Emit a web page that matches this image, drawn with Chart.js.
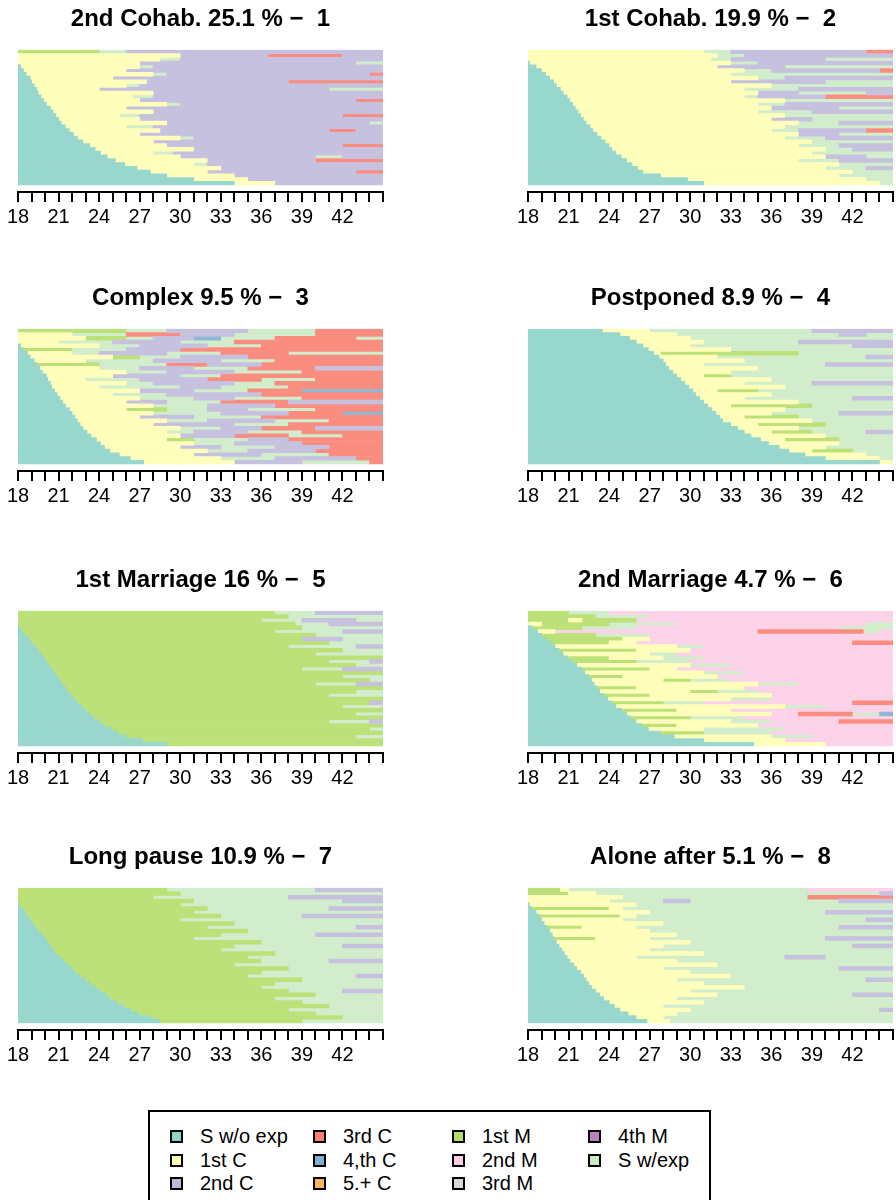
<!DOCTYPE html>
<html>
<head>
<meta charset="utf-8">
<script src="https://cdn.jsdelivr.net/npm/chart.js@4.4.1/dist/chart.umd.min.js"></script>
<style>
  body { margin: 0; background: #fff; font-family: "Liberation Sans", Arial, sans-serif; }
  #wrap { position: relative; width: 896px; height: 1200px; overflow: hidden; }
  canvas.panel { position: absolute; }
  #legend {
    position: absolute; left: 148px; top: 1110px; width: 563px; height: 110px;
    border: 2px solid #000; box-sizing: border-box;
    display: grid; padding: 13px 0 0 20px;
    grid-template-columns: 143px 139px 136px auto;
    grid-template-rows: repeat(3, 23.5px);
    grid-auto-flow: column;
  }
  .item { display: flex; align-items: center; font-size: 20px; color: #000; white-space: nowrap; }
  .sw { width: 13px; height: 13px; border: 2px solid #000; box-sizing: border-box; margin-right: 17px; }
</style>
</head>
<body>
<div id="wrap">
  <div id="legend"></div>
</div>
<script>
// etats (codes a..k)
const stateCodes = ['a', 'b', 'c', 'd', 'e', 'f', 'g', 'h', 'i', 'j', 'k'];
const stateLabels = ['S w/o exp', '1st C', '2nd C', '3rd C', '4,th C', '5.+ C', '1st M', '2nd M', '3rd M', '4th M', 'S w/exp'];
const stateColors = ['#8DD3C7', '#FFFFB3', '#BEBADA', '#FB8072', '#80B1D3', '#FDB462', '#B3DE69', '#FCCDE5', '#D9D9D9', '#BC80BD', '#CCEBC5'];

const ageStart = 18;
const ageEnd = 45;
const ageTickLabels = [18, 21, 24, 27, 30, 33, 36, 39, 42];

const panelTitles = [
  '2nd Cohab. 25.1 % \u2212  1', '1st Cohab. 19.9 % \u2212  2',
  'Complex 9.5 % \u2212  3', 'Postponed 8.9 % \u2212  4',
  '1st Marriage 16 % \u2212  5', '2nd Marriage 4.7 % \u2212  6',
  'Long pause 10.9 % \u2212  7', 'Alone after 5.1 % \u2212  8'
];

// sequences, de haut en bas: code d'etat suivi de l'age de fin (vide = jusqu'a 45)
const seqCohab2 = [
  'g24k26c', 'b30c36.5d42c', 'b28.5k30c', 'b27c43k', 'a18.2b27k28c', 'a18.4b26c',
  'a18.6b28k29c44d', 'a18.9b25c', 'a19b27.5c38d', 'a19.2b26k27c', 'a19.4b24c41k', 'a19.5b28c',
  'a19.7b26.5k28c', 'a19.9b27c43d', 'a20.1b29k30c', 'a20.4b26c', 'a20.6b28c', 'a20.8b25.5k27c42d',
  'a21b27c', 'a21.2b29c44k', 'a21.5b26k28c', 'a21.8b28.5c41d43c', 'a22.1b27c', 'a22.4b30k31c',
  'a22.8b28c', 'a23.3b29c42d', 'a23.7b31c', 'a24.1b28k29.5c', 'a24.6b30c40k42c', 'a25.2b32c40d',
  'a25.9b31k32c', 'a26.8b33c', 'a27.8b32c43d', 'a29b34c', 'a31b35c', 'a34b37c'
];
const seqCohab1 = [
  'b31k33c43d', 'b32k34c', 'b31.5k33c40k', 'a18.1b33k35c', 'a18.6b32c37k', 'a19b34k36c44d',
  'a19.3b33k', 'a19.6b35k37c', 'a19.9b33c40k', 'a20.1b36k', 'a20.4b34k38c', 'a20.6b35c38k43c',
  'a20.9b34k35c40d', 'a21.1b37k', 'a21.3b35k37c', 'a21.5b36c41k', 'a21.7b35k39c', 'a21.9b37k',
  'a22.1b36c39k', 'a22.3b38k41c', 'a22.6b37k', 'a22.8b36k38c43d', 'a23.1b38c41k', 'a23.4b37k40c',
  'a23.7b39k', 'a24b38k41c', 'a24.2b40k42c', 'a24.5b39k', 'a24.9b40c43k', 'a25.3b38k41c',
  'a25.7b41k', 'a26.1b40k43c', 'a26.5b42k', 'a27.8b41k', 'a29.8b43k', 'a31b44k'
];
const seqComplex = [
  'g26k29c35k40d', 'b22k26d30c34k40d', 'b23g26k28c31e33k37d43k', 'b21k25c30k34d',
  'a18.2b24k27c32k36d', 'a18.4g22k26c30d', 'a18.7b22k24c29k33d38k', 'a18.9b25g27k30c35d',
  'a19.2b23k28c33k37d', 'a19.4g24k29d32c36d', 'a19.6b24k27c31k35d40c', 'a19.8b26k29c34k39d',
  'a20.1b25c30k33d', 'a20.2b23k27c32d36k40d', 'a20.4b26k28c34k37d', 'a20.5b24k30c33k38d',
  'a20.7b27c31k35d39e', 'a20.9b25k29c36d', 'a21.1b27k31c34k39d', 'a21.3b26c29k33d38c',
  'a21.5b28k32c37d', 'a21.8b26g29k32c35k40d', 'a22b28k33c38d42e', 'a22.2b27c31k36d',
  'a22.4b29k32c37k41d', 'a22.6b28c34k38d', 'a22.8b30k33c36d40c', 'a23.1b29k31c35k39d',
  'a23.4b30c34d38k42d', 'a23.8b29g31k35c38d', 'a24.1b31k34c39d', 'a24.4b30c33k37c41d',
  'a24.8b32k35c40d', 'a25.5b31c36k41d', 'a26.3b33k37c43d', 'a27.3b34c39k44d'
];
const seqPostponed = [
  'a23.5b27k39c', 'a24.8b29k41c43k', 'a25.5b30k', 'a26b31k38c', 'a26.5b30k42c', 'a26.9b33k',
  'a27.3b27.8g38k', 'a27.7b32k43c', 'a28b34k', 'a28.2b31k40c', 'a28.4b35k', 'a28.7b33k',
  'a29b31g33k', 'a29.3b36k', 'a29.6b34k39c', 'a29.9b37k', 'a30.2b32g35k', 'a30.4b36k',
  'a30.7b34k42c', 'a31b38k', 'a31.3b33g39k', 'a31.6b37k', 'a31.9b36k41c', 'a32.2b34g38k',
  'a32.4b39k', 'a33b35g40k', 'a33.5b38k', 'a34b36g39k43c', 'a34.5b40k', 'a35.2b37g41k',
  'a35.8b41k', 'a36.6b40k', 'a37.3b39g42k', 'a38.5b43k', 'a40b44k', 'a44b'
];
const seqMarriage1 = [
  'g37k40c', 'g38k', 'g36k39c43k', 'g38.5k41c', 'a18.1g39k', 'a18.3g37k42c',
  'a18.5g40k', 'a18.8g39c42k', 'a19g41k', 'a19.3g38k43c', 'a19.5g42k', 'a19.7g40k',
  'a19.9g', 'a20.1g41k44c', 'a20.3g43k', 'a20.5g39k42c', 'a20.7g', 'a20.9g42k',
  'a21.1g44k', 'a21.3g40k43c', 'a21.5g', 'a21.7g43k', 'a21.9g41k', 'a22.2g',
  'a22.4g44c', 'a22.7g42k', 'a23g', 'a23.3g43k', 'a23.6g', 'a24g41k44c',
  'a24.4g', 'a24.9g44k', 'a25.4g', 'a26g43k', 'a27.2g', 'a29g'
];
const seqMarriage2 = [
  'g21k24h', 'g23k27h', 'g21b22g26h', 'a18b19g24k29h43k', 'a18.3g22k26h41k', 'a18.7b20h35d42.8k44h',
  'a19g23k27h', 'a19.3g25b27h', 'a19.7g24b26h42d', 'a20b29k31h', 'a20.3g26b30h', 'a20.6b27k29h',
  'a20.9g24b28k31h', 'a21.3g26k30h', 'a21.6b30k33h', 'a22g27b29h', 'a22.2b31k34h', 'a22.5g25b32h',
  'a22.7b28g30k33h', 'a22.9b35k38h', 'a23.1g26b34h', 'a23.3b30g32k35h', 'a23.6g27b36h', 'a23.9b33k36h',
  'a24.2g28k31h42d', 'a24.5b37k40h', 'a24.9g29b33h', 'a25.3b36h38d42k44e', 'a25.6g30k34h', 'a26b33k36h41d',
  'a26.4g29b35h', 'a26.9b31k37h', 'a27.8g31k36h', 'a28.8b36k39h', 'a31b37h', 'a34.7b40h'
];
const seqLongPause = [
  'g29k40c', 'g30k', 'g28k38c', 'g31k42c', 'a18.1g30k', 'a18.3g32k41c',
  'a18.5g31k', 'a18.7g33k39c', 'a18.9g30k', 'a19.1g34k', 'a19.3g32k43c', 'a19.5g35k',
  'a19.8g33k40c', 'a20g31k', 'a20.2g36k', 'a20.4g34k42c', 'a20.6g33k', 'a20.8g37k',
  'a21.1g35k', 'a21.4g36k41c', 'a21.7g34k', 'a22g38k', 'a22.2g36k', 'a22.6g35k43c',
  'a23g39k', 'a23.3g37k', 'a23.7g36k', 'a24.1g38k42c', 'a24.5g40k', 'a24.8g37k',
  'a25.3g39k', 'a25.8g41k', 'a26.3g38k', 'a26.9g40k', 'a27.8g42k', 'a28.5g39k'
];
const seqAlone = [
  'g20.4b21k38.7h', 'g21b23k44c', 'b25k38.7d', 'b24k28c30k41c', 'a18.1b26k', 'a18.3g24b25k',
  'a18.6b27k40c', 'a18.8g24.8b26k', 'a19b25k43c', 'a19.2b28k', 'a19.4g22b26k41c', 'a19.6b27k',
  'a19.8b29k', 'a19.9g23b27k40c', 'a20.1b30k', 'a20.3b28k42c', 'a20.5b27k', 'a20.7b31k',
  'a20.9b26k37c40k', 'a21.1b29k', 'a21.4b32k', 'a21.6b28k41c', 'a21.9b30k', 'a22.1b33k',
  'a22.3b29k43c', 'a22.5b31k', 'a22.7b34k', 'a23b30k', 'a23.3b32k42c', 'a23.6b29k',
  'a24b31k', 'a24.4b28k', 'a24.8b30k44c', 'a25.4b29k', 'a26b28k', 'a26.8b28.5k'
];

const panelSeqs = [seqCohab2, seqCohab1, seqComplex, seqPostponed, seqMarriage1, seqMarriage2, seqLongPause, seqAlone];

Chart.defaults.font.family = '"Liberation Sans", Arial, sans-serif';
Chart.defaults.color = '#000';

// couleur un peu plus claire dans les graphes
function lighten(hex, t) {
  const n = parseInt(hex.slice(1), 16);
  const c = [n >> 16, (n >> 8) & 255, n & 255].map(v => Math.round(v + (255 - v) * t));
  return `rgb(${c[0]},${c[1]},${c[2]})`;
}

function parseRow(str) {
  const spells = [];
  const re = /([a-k])([\d.]*)/g;
  let m, from = ageStart;
  while ((m = re.exec(str))) {
    const to = m[2] ? parseFloat(m[2]) : ageEnd;
    spells.push({ state: m[1], from, to });
    from = to;
  }
  return spells;
}

function buildDatasets(rows) {
  const n = rows.length;
  const byState = {};
  stateCodes.forEach(s => byState[s] = []);
  rows.forEach((r, i) => {
    parseRow(r).forEach(sp => byState[sp.state].push({ x: [sp.from, sp.to], y: n - i }));
  });
  return stateCodes.map((s, k) => ({
    label: stateLabels[k],
    data: byState[s],
    backgroundColor: lighten(stateColors[k], 0.1),
    borderWidth: 0,
    grouped: false,
    barPercentage: 1,
    categoryPercentage: 1
  })).filter(d => d.data.length);
}

const plotTops = [50, 329, 611, 888];
const wrap = document.getElementById('wrap');

panelSeqs.forEach((rows, p) => {
  const col = p % 2, row = Math.floor(p / 2);
  const canvas = document.createElement('canvas');
  canvas.className = 'panel';
  canvas.width = col === 0 ? 400 : 386;
  canvas.height = 240;
  canvas.style.left = (col === 0 ? 0 : 510) + 'px';
  canvas.style.top = (plotTops[row] - 50) + 'px';
  wrap.appendChild(canvas);

  const n = rows.length;
  const gap = n * 7 / 135; // petit espace entre les barres et l'axe
  const rowValues = rows.map((r, i) => n - i);

  new Chart(canvas, {
    type: 'bar',
    data: { datasets: buildDatasets(rows) },
    options: {
      indexAxis: 'y',
      responsive: false,
      animation: false,
      devicePixelRatio: 1,
      layout: { padding: { left: 18, right: col === 0 ? 17 : 3, top: 0, bottom: 0 } },
      plugins: {
        legend: { display: false },
        tooltip: { enabled: false },
        title: {
          display: true,
          text: panelTitles[p],
          color: '#000',
          font: { size: 24, weight: 'bold' },
          padding: { top: 5, bottom: 16 }
        }
      },
      scales: {
        x: {
          type: 'linear',
          min: ageStart,
          max: ageEnd,
          offset: false,
          ticks: {
            stepSize: 1,
            autoSkip: false,
            maxRotation: 0,
            color: '#000',
            font: { size: 20 },
            padding: 3,
            callback: v => ageTickLabels.includes(v) ? String(v) : ''
          },
          grid: { drawOnChartArea: false, drawTicks: true, tickLength: 10, color: '#000', lineWidth: 2 },
          border: { display: true, color: '#000', width: 2 },
          afterFit: s => { s.height = 48; }
        },
        y: {
          type: 'linear',
          display: false,
          offset: false,
          grid: { offset: false },
          min: 0.5 - gap,
          max: n + 0.5,
          afterBuildTicks: s => { s.ticks = rowValues.map(v => ({ value: v })); }
        }
      }
    }
  });
});

// legende
const legend = document.getElementById('legend');
stateLabels.forEach((lab, k) => {
  const it = document.createElement('div');
  it.className = 'item';
  it.innerHTML = `<span class="sw" style="background:${stateColors[k]}"></span><span>${lab}</span>`;
  legend.appendChild(it);
});
</script>
</body>
</html>
